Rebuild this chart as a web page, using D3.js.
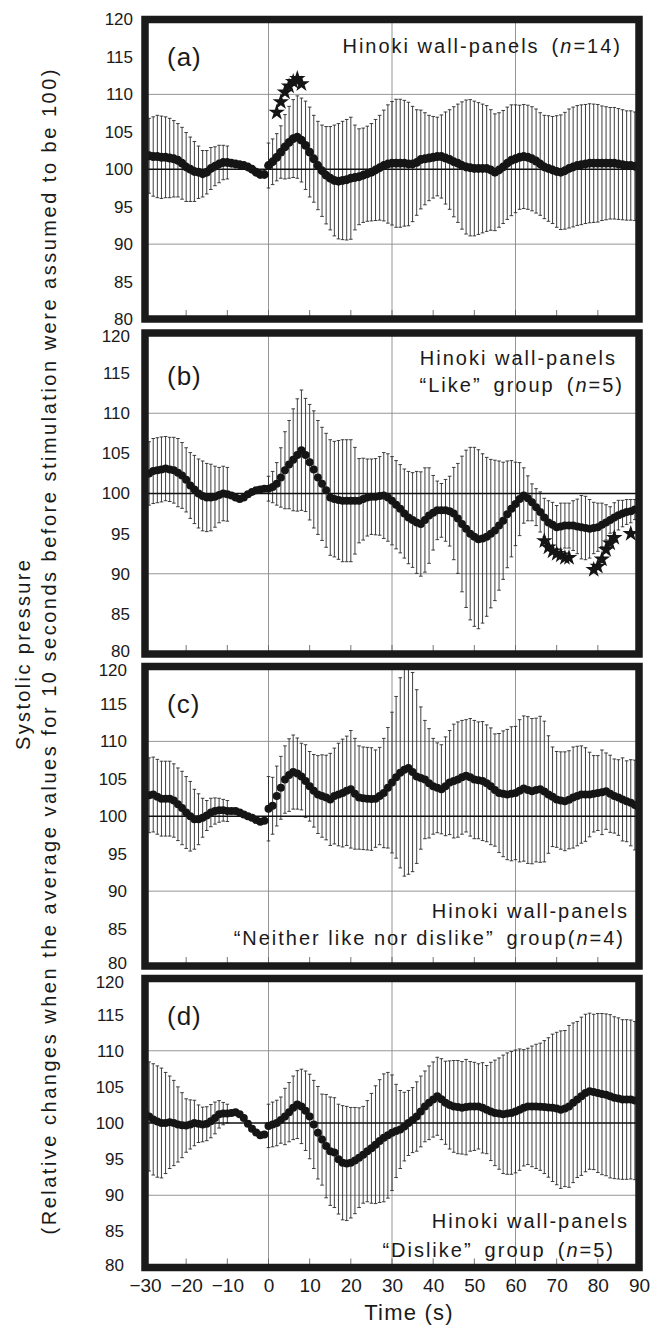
<!DOCTYPE html>
<html>
<head>
<meta charset="utf-8">
<script src="https://cdn.jsdelivr.net/npm/d3@7"></script>
<style>
  body { margin: 0; background: #fff; }
  svg { display: block; font-family: "Liberation Sans", Arial, sans-serif; }
</style>
</head>
<body>
<script>
// time axis: one sample per second
const time = d3.range(-30, 91);
const xTicks = [-30, -20, -10, 0, 10, 20, 30, 40, 50, 60, 70, 80, 90];
const yTicks = [80, 85, 90, 95, 100, 105, 110, 115, 120];
const gridX = [0, 30, 60];
const gridY = [90, 110];
const refLine = 100;

// (a) all subjects
const meanA = [
  101.8, 101.8, 101.7, 101.7, 101.6, 101.6, 101.5, 101.4, 101.2, 100.8,
  100.3, 100.0, 99.7, 99.6, 99.4, 99.6, 100.1, 100.4, 100.7, 100.9,
  100.9, 100.8, 100.7, 100.6, 100.5, 100.3, 100.0, 99.6, 99.3, 99.3,
  100.5, 101.0, 101.6, 102.3, 103.0, 103.6, 104.1, 104.3, 103.9, 103.2,
  102.3, 101.4, 100.5, 99.8, 99.2, 98.8, 98.5, 98.4, 98.5, 98.6,
  98.8, 98.9, 99.0, 99.2, 99.4, 99.6, 99.9, 100.2, 100.5, 100.7,
  100.8, 100.8, 100.8, 100.8, 100.7, 100.7, 100.9, 101.3, 101.4, 101.5,
  101.6, 101.7, 101.7, 101.5, 101.3, 101.0, 100.8, 100.5, 100.3, 100.2,
  100.1, 100.1, 100.1, 100.1, 99.9, 99.6, 99.9, 100.3, 100.8, 101.2,
  101.4, 101.6, 101.7, 101.6, 101.4, 101.1, 100.7, 100.3, 100.1, 99.9,
  99.7, 99.6, 99.8, 100.1, 100.3, 100.5, 100.6, 100.7, 100.8, 100.8,
  100.8, 100.8, 100.8, 100.8, 100.8, 100.7, 100.6, 100.5, 100.5, 100.4, 100.4
];
const sdA = [
  4.8, 5.0, 5.3, 5.5, 5.5, 5.4, 5.3, 5.1, 4.9, 4.8,
  4.6, 4.3, 4.0, 3.5, 3.1, 2.9, 2.8, 2.6, 2.5, 2.3,
  2.2, null, null, null, null, null, null, null, null, null,
  3.0, 3.05, 3.15, 3.5, 4.3, 4.8, 5.2, 5.5, 5.6, 5.9,
  6.0, 5.8, 5.9, 6.1, 6.5, 6.9, 7.4, 7.7, 7.9, 8.05,
  8.15, 7.0, 6.4, 6.3, 6.35, 6.5, 6.75, 7.0, 7.4, 7.9,
  8.25, 8.55, 8.55, 8.4, 8.25, 7.7, 7.05, 6.6, 6.15, 5.7,
  5.45, 5.25, 5.55, 6.15, 6.65, 7.35, 7.9, 8.5, 8.95, 9.1,
  9.0, 8.8, 8.6, 8.4, 8.05, 7.8, 7.65, 7.55, 7.5, 7.4,
  7.2, 6.95, 6.95, 6.95, 6.95, 6.95, 6.85, 6.9, 7.05, 7.15,
  7.45, 7.65, 7.8, 7.95, 8.0, 8.0, 8.0, 7.95, 7.95, 7.9,
  7.85, 7.65, 7.55, 7.45, 7.45, 7.4, 7.35, 7.3, 7.3, 7.25, 7.25
];
const starTimeA = [2, 3, 4, 5, 6, 7, 8];
const starValA = [107.6, 109.0, 110.3, 111.1, 111.7, 112.1, 111.4];

// (b) "Like" group
const meanB = [
  102.2, 102.5, 102.8, 102.9, 103.0, 103.1, 103.0, 102.9, 102.6, 102.25,
  101.7, 101.0, 100.5, 100.0, 99.7, 99.5, 99.5, 99.6, 99.8, 100.0,
  99.9, 99.75, 99.5, 99.3, 99.5, 99.9, 100.2, 100.4, 100.5, 100.6,
  100.6, 100.8, 101.2, 102.0, 102.9, 103.6, 104.2, 104.8, 105.4, 104.8,
  103.9, 103.0, 102.0, 101.2, 100.4, 99.5, 99.3, 99.2, 99.1, 99.1,
  99.1, 99.1, 99.1, 99.3, 99.5, 99.6, 99.6, 99.7, 99.75, 99.5,
  99.1, 98.6, 98.1, 97.5, 97.0, 96.7, 96.4, 96.2, 96.7, 97.25,
  97.6, 97.9, 97.9, 97.9, 97.8, 97.5, 96.9, 96.2, 95.6, 95.0,
  94.6, 94.3, 94.4, 94.6, 95.0, 95.4, 96.0, 96.6, 97.4, 98.1,
  98.7, 99.3, 99.75, 99.4, 98.9, 98.3, 97.7, 97.0, 96.4, 96.1,
  95.8, 95.9, 96.0, 96.0, 96.0, 95.9, 95.8, 95.7, 95.6, 95.7,
  95.8, 96.1, 96.4, 96.7, 97.0, 97.3, 97.5, 97.7, 97.8, 98.0, 98.1
];
const sdB = [
  3.65, 3.95, 4.05, 4.05, 4.05, 4.0, 4.0, 4.1, 4.25, 4.1,
  4.0, 4.1, 4.25, 4.3, 4.35, 4.25, 4.15, 3.8, 3.45, 3.4,
  3.35, null, null, null, null, null, null, null, null, null,
  1.55, 1.95, 2.65, 3.7, 4.8, 5.5, 6.35, 7.0, 7.5, 7.05,
  7.2, 7.3, 7.1, 7.05, 7.1, 7.2, 7.2, 7.4, 7.6, 7.6,
  7.6, 6.65, 5.25, 5.1, 4.8, 4.7, 4.75, 4.9, 5.35, 5.45,
  5.5, 5.5, 5.5, 5.55, 5.75, 5.9, 6.35, 6.5, 6.5, 5.95,
  4.65, 3.65, 3.35, 3.85, 4.35, 5.75, 6.85, 8.45, 9.8, 10.75,
  11.15, 11.15, 10.55, 9.9, 9.25, 8.75, 8.05, 7.3, 6.65, 6.0,
  5.2, 4.55, 3.45, 2.8, 2.3, 2.3, 2.5, 2.4, 2.7, 2.8,
  2.7, 2.9, 2.8, 2.8, 3.1, 3.4, 3.95, 3.95, 3.65, 3.2,
  3.0, 2.7, 2.2, 1.65, 1.85, 1.85, 1.65, 1.55, 1.45, 1.25, 1.2
];
const starTimeB = [67, 68, 69, 70, 71, 72, 73, 79, 80, 81, 82, 83, 84, 88];
const starValB = [94.1, 93.3, 92.8, 92.5, 92.3, 92.0, 92.0, 90.5, 90.9, 91.8, 93.0, 93.8, 94.5, 95.0];

// (c) "Neither like nor dislike" group
const meanC = [
  102.7, 102.8, 102.9, 102.6, 102.35, 102.35, 102.35, 102.1, 101.6, 101.1,
  100.5, 100.0, 99.6, 99.6, 99.8, 100.1, 100.5, 100.7, 100.8, 100.8,
  100.7, 100.7, 100.7, 100.5, 100.25, 100.0, 99.8, 99.5, 99.25, 99.4,
  101.0, 101.4, 102.7, 103.8, 104.9, 105.5, 105.9, 105.7, 105.3, 104.7,
  104.0, 103.4, 102.9, 102.7, 102.5, 102.25, 102.7, 102.9, 103.1, 103.4,
  103.6, 103.0, 102.5, 102.4, 102.35, 102.3, 102.35, 102.7, 103.1, 103.8,
  104.5, 105.2, 105.8, 106.2, 106.45, 105.9, 105.3, 105.1, 104.9, 104.4,
  104.0, 103.8, 103.6, 104.0, 104.5, 104.7, 104.9, 105.2, 105.4, 105.2,
  104.9, 104.8, 104.7, 104.4, 104.0, 103.5, 103.1, 103.0, 102.9, 103.0,
  103.1, 103.4, 103.7, 103.5, 103.35, 103.5, 103.6, 103.3, 102.9, 102.6,
  102.25, 102.1, 102.0, 102.2, 102.5, 102.7, 102.9, 102.9, 102.9, 103.0,
  103.1, 103.2, 103.35, 103.0, 102.7, 102.5, 102.25, 102.0, 101.8, 101.5, 101.15
];
const sdC = [
  2.8, 5.0, 5.0, 5.0, 5.0, 5.0, 5.0, 4.9, 4.85, 4.9,
  4.8, 4.65, 4.0, 3.4, 2.6, 2.0, 1.9, 1.75, 1.6, 1.45,
  1.4, null, null, null, null, null, null, null, null, null,
  4.3, 3.8, 4.0, 4.2, 4.5, 4.85, 4.95, 4.75, 4.45, 4.85,
  4.65, 4.85, 5.2, 5.5, 5.65, 6.15, 6.4, 6.85, 7.2, 7.3,
  7.85, 7.4, 6.9, 6.85, 6.85, 6.85, 6.5, 6.5, 7.3, 8.05,
  9.4, 10.8, 12.7, 14.2, 14.2, 13.3, 11.6, 9.5, 7.9, 7.3,
  6.4, 6.0, 5.95, 6.6, 6.95, 7.6, 7.7, 7.6, 7.5, 7.85,
  7.9, 7.8, 7.95, 7.8, 7.8, 7.5, 7.95, 8.4, 8.7, 8.95,
  8.9, 9.5, 9.7, 9.8, 9.7, 9.6, 9.75, 9.4, 7.85, 6.65,
  6.4, 6.5, 6.6, 6.55, 6.75, 6.65, 6.5, 6.25, 5.65, 5.1,
  5.0, 5.65, 5.1, 5.15, 4.95, 5.05, 5.55, 5.4, 5.75, 6.0, 5.95
];

// (d) "Dislike" group
const meanD = [
  101.3, 100.9, 100.5, 100.2, 100.0, 100.0, 100.1, 100.0, 99.8, 99.7,
  99.65, 99.8, 100.0, 99.9, 99.8, 99.9, 100.25, 100.7, 101.2, 101.3,
  101.3, 101.4, 101.5, 101.2, 100.7, 99.9, 99.2, 98.7, 98.3, 98.4,
  99.6, 99.8, 100.0, 100.4, 100.9, 101.5, 102.1, 102.55, 102.3, 101.7,
  100.9, 99.8, 98.65, 97.7, 96.8, 96.1, 95.9, 95.0, 94.5, 94.4,
  94.5, 94.8, 95.2, 95.6, 96.1, 96.5, 97.0, 97.5, 97.95, 98.3,
  98.65, 98.9, 99.1, 99.5, 100.0, 100.4, 100.9, 101.6, 102.3, 102.8,
  103.25, 103.7, 103.3, 102.8, 102.5, 102.3, 102.2, 102.1, 102.2, 102.3,
  102.3, 102.3, 102.1, 101.85, 101.6, 101.4, 101.3, 101.2, 101.3, 101.4,
  101.6, 101.85, 102.1, 102.3, 102.3, 102.3, 102.25, 102.2, 102.15, 102.1,
  102.0, 101.85, 102.0, 102.3, 102.8, 103.25, 103.7, 104.15, 104.4, 104.3,
  104.15, 104.0, 103.9, 103.7, 103.5, 103.4, 103.25, 103.25, 103.25, 103.1, 103.0
];
const sdD = [
  7.45, 7.55, 7.7, 7.7, 7.6, 7.0, 6.4, 5.9, 5.2, 4.5,
  3.7, 3.4, 3.15, 2.6, 2.4, 2.35, 2.3, 2.2, 1.9, 1.55,
  1.3, null, null, null, null, null, null, null, null, null,
  3.0, 3.1, 3.15, 3.2, 3.9, 4.1, 4.4, 4.7, 5.15, 5.5,
  5.85, 6.1, 6.4, 6.3, 7.15, 7.5, 7.6, 7.6, 7.9, 7.9,
  7.65, 7.35, 6.9, 6.7, 7.0, 7.6, 8.15, 8.5, 8.85, 8.7,
  8.0, 6.45, 5.4, 4.75, 4.5, 4.5, 4.8, 4.9, 4.9, 5.1,
  5.2, 5.4, 5.6, 5.75, 6.1, 6.35, 6.45, 6.4, 6.6, 6.2,
  6.1, 5.9, 6.25, 6.1, 6.8, 7.3, 7.7, 8.2, 8.4, 8.5,
  8.5, 8.4, 8.05, 8.05, 8.35, 8.6, 8.8, 9.2, 9.65, 10.2,
  10.55, 10.9, 10.8, 11.2, 11.05, 10.8, 10.95, 10.9, 10.8, 10.75,
  11.0, 11.15, 11.2, 11.3, 11.2, 11.15, 11.05, 11.05, 11.0, 10.95, 10.95
];

// panel texts (second part of each line is set in italics)
const titleA = [["Hinoki wall-panels\u2002(", "n", "=14)"]];
const titleB = [["Hinoki wall-panels"], ["\u201CLike\u201D\u2002group\u2002(", "n", "=5)"]];
const titleC = [["Hinoki wall-panels"], ["\u201CNeither like nor dislike\u201D\u2002group(", "n", "=4)"]];
const titleD = [["Hinoki wall-panels"], ["\u201CDislike\u201D\u2002group\u2002(", "n", "=5)"]];
const yTitle1 = "Systolic pressure";
const yTitle2 = "(Relative changes when the average values for 10 seconds before stimulation were assumed to be 100)";
const xTitle = "Time (s)";

const W = 667, H = 1325;

const panels = [
  { tag: '(a)', mean: meanA, sd: sdA, starT: starTimeA, starV: starValA, title: titleA,
    top: 19.5, bottom: 319, labelX: 133, tagY: 66, r: 4.4,
    titlePos: [[622, 53]] },
  { tag: '(b)', mean: meanB, sd: sdB, starT: starTimeB, starV: starValB, title: titleB,
    top: 333, bottom: 654, labelX: 130, tagY: 385, r: 4.0,
    titlePos: [[617, 365], [624, 392]] },
  { tag: '(c)', mean: meanC, sd: sdC, starT: [], starV: [], title: titleC,
    top: 666.5, bottom: 966, labelX: 127, tagY: 713, r: 4.0,
    titlePos: [[629, 918], [625, 945]] },
  { tag: '(d)', mean: meanD, sd: sdD, starT: [], starV: [], title: titleD,
    top: 978.5, bottom: 1267.5, labelX: 124, tagY: 1025, r: 4.0,
    titlePos: [[629, 1228], [615, 1257]] }
];

const svg = d3.select('body').append('svg')
  .attr('width', W)
  .attr('height', H);

const x = d3.scaleLinear().domain([-30, 90]).range([145, 639]);

panels.forEach(function(p, k) {
  const y = d3.scaleLinear().domain([80, 120]).range([p.bottom, p.top]);
  const g = svg.append('g');

  const clipId = 'clip' + k;
  svg.append('clipPath').attr('id', clipId)
    .append('rect')
    .attr('x', x(-30)).attr('y', y(120))
    .attr('width', x(90) - x(-30)).attr('height', y(80) - y(120));

  // GRID
  g.selectAll('.gx').data(gridX).enter().append('line')
    .attr('x1', d => x(d)).attr('x2', d => x(d))
    .attr('y1', y(120)).attr('y2', y(80))
    .attr('stroke', '#8a8a8a').attr('stroke-width', 0.9);

  g.selectAll('.gy').data(gridY).enter().append('line')
    .attr('x1', x(-30)).attr('x2', x(90))
    .attr('y1', d => y(d)).attr('y2', d => y(d))
    .attr('stroke', '#8a8a8a').attr('stroke-width', 0.9);

  // small ticks along the bottom edge
  g.selectAll('.mt').data(xTicks).enter().append('line')
    .attr('x1', d => x(d)).attr('x2', d => x(d))
    .attr('y1', y(80) - 3).attr('y2', y(80) - 9)
    .attr('stroke', '#666').attr('stroke-width', 0.9);

  // ERROR BARS
  const rows = time.map(function(t, i) {
    return { t: t, m: p.mean[i], s: p.sd[i] };
  });
  const bars = rows.filter(d => d.s != null);

  const eb = g.append('g').attr('clip-path', 'url(#' + clipId + ')')
    .attr('stroke', '#2a2a2a').attr('stroke-width', 0.9);

  eb.selectAll('.bar').data(bars).enter().append('line')
    .attr('x1', d => x(d.t)).attr('x2', d => x(d.t))
    .attr('y1', d => y(d.m + d.s)).attr('y2', d => y(d.m - d.s));

  eb.selectAll('.capTop').data(bars).enter().append('line')
    .attr('x1', d => x(d.t) - 1.8).attr('x2', d => x(d.t) + 1.8)
    .attr('y1', d => y(d.m + d.s)).attr('y2', d => y(d.m + d.s));

  eb.selectAll('.capBot').data(bars).enter().append('line')
    .attr('x1', d => x(d.t) - 1.8).attr('x2', d => x(d.t) + 1.8)
    .attr('y1', d => y(d.m - d.s)).attr('y2', d => y(d.m - d.s));

  // REFERENCE LINE
  g.append('line')
    .attr('x1', x(-30)).attr('x2', x(90))
    .attr('y1', y(refLine)).attr('y2', y(refLine))
    .attr('stroke', '#111').attr('stroke-width', 1.3);

  // MEANS
  g.append('g').attr('clip-path', 'url(#' + clipId + ')')
    .selectAll('circle').data(rows).enter().append('circle')
    .attr('cx', d => x(d.t))
    .attr('cy', d => y(d.m))
    .attr('r', p.r)
    .attr('fill', '#151515');

  // STARS
  const star = d3.symbol().type(d3.symbolStar).size(85);
  g.selectAll('.star').data(p.starT).enter().append('path')
    .attr('d', star)
    .attr('transform', (d, i) => 'translate(' + x(d) + ',' + y(p.starV[i]) + ')')
    .attr('fill', '#151515');

  // FRAME
  g.append('rect')
    .attr('x', x(-30)).attr('y', y(120))
    .attr('width', x(90) - x(-30)).attr('height', y(80) - y(120))
    .attr('fill', 'none')
    .attr('stroke', '#1a1a1a')
    .attr('stroke-width', 7.5);

  // PANEL TAG
  g.append('text')
    .attr('x', 167).attr('y', p.tagY)
    .attr('font-size', '26px')
    .attr('letter-spacing', '1px')
    .attr('fill', '#1a1a1a')
    .text(p.tag);

  // TITLE
  p.title.forEach(function(parts, j) {
    const t = g.append('text')
      .attr('x', p.titlePos[j][0]).attr('y', p.titlePos[j][1])
      .attr('text-anchor', 'end')
      .attr('font-size', '20px')
      .attr('letter-spacing', '2px')
      .attr('fill', '#1a1a1a');
    parts.forEach(function(s, n) {
      t.append('tspan')
        .attr('font-style', n === 1 ? 'italic' : 'normal')
        .text(s);
    });
  });

  // Y AXIS
  const yAxis = d3.axisLeft(y).tickValues(yTicks).tickSize(0).tickPadding(0);
  const ya = svg.append('g')
    .attr('transform', 'translate(' + p.labelX + ',0)')
    .call(yAxis);
  ya.select('.domain').remove();
  ya.selectAll('text')
    .attr('font-size', '17px')
    .attr('font-family', '"Liberation Sans", Arial, sans-serif')
    .attr('fill', '#1a1a1a')
    .attr('dy', function(d) {
      if (k > 0 && d === 120) return '0.5em';
      if (k > 0 && d === 80) return '0.15em';
      return '0.32em';
    });
});

// X AXIS
const xAxis = d3.axisBottom(x).tickValues(xTicks).tickSize(0).tickPadding(11);
const xa = svg.append('g')
  .attr('transform', 'translate(0,' + panels[3].bottom + ')')
  .call(xAxis);
xa.select('.domain').remove();
xa.selectAll('text')
  .attr('font-size', '19px')
  .attr('font-family', '"Liberation Sans", Arial, sans-serif')
  .attr('fill', '#1a1a1a');

// AXIS TITLES
svg.append('text')
  .attr('x', 409).attr('y', 1320)
  .attr('text-anchor', 'middle')
  .attr('font-size', '22px')
  .attr('letter-spacing', '1.2px')
  .attr('fill', '#1a1a1a')
  .text(xTitle);

svg.append('text')
  .attr('transform', 'translate(30,655) rotate(-90)')
  .attr('text-anchor', 'middle')
  .attr('font-size', '20px')
  .attr('textLength', 190)
  .attr('lengthAdjust', 'spacing')
  .attr('fill', '#1a1a1a')
  .text(yTitle1);

svg.append('text')
  .attr('transform', 'translate(56,652) rotate(-90)')
  .attr('text-anchor', 'middle')
  .attr('font-size', '20px')
  .attr('textLength', 1165)
  .attr('lengthAdjust', 'spacing')
  .attr('fill', '#1a1a1a')
  .text(yTitle2);
</script>
</body>
</html>
